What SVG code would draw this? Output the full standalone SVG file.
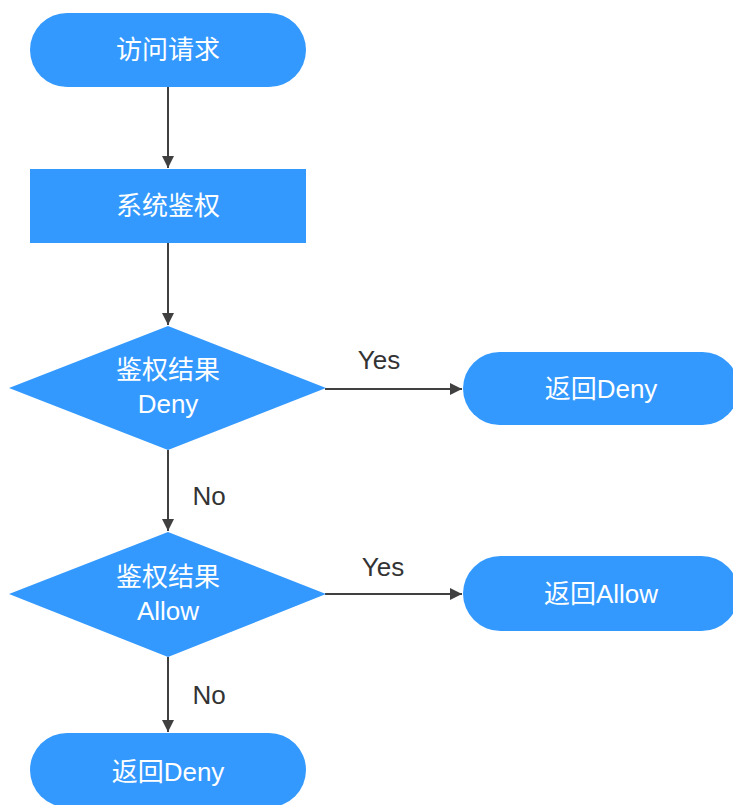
<svg xmlns="http://www.w3.org/2000/svg" width="733" height="805" viewBox="0 0 733 805">
<defs>
<style>
.n{fill:#3399ff;}
.t{fill:#ffffff;font-family:"Liberation Sans","Noto Sans CJK SC",sans-serif;font-size:26px;text-anchor:middle;}
.l{fill:#333333;font-family:"Liberation Sans",sans-serif;font-size:26px;text-anchor:middle;}
.c{stroke:#404040;stroke-width:2;fill:none;marker-end:url(#a);}
</style>
<marker id="a" viewBox="0 0 10 10" refX="10" refY="5" markerWidth="6" markerHeight="6" orient="auto" markerUnits="strokeWidth">
<path d="M0,0 L10,5 L0,10 Z" fill="#404040"/>
</marker>
</defs>
<rect width="733" height="805" fill="#ffffff"/>
<g id="connectors">
<line class="c" x1="168" y1="87" x2="168" y2="168"/>
<line class="c" x1="168" y1="243" x2="168" y2="325"/>
<line class="c" x1="325" y1="389" x2="462" y2="389"/>
<line class="c" x1="168" y1="450" x2="168" y2="531"/>
<line class="c" x1="325" y1="594" x2="462" y2="594"/>
<line class="c" x1="168" y1="657" x2="168" y2="732"/>
</g>
<g id="labels">
<text class="l" x="379" y="369">Yes</text>
<text class="l" x="383" y="576">Yes</text>
<text class="l" x="209" y="505">No</text>
<text class="l" x="209" y="704">No</text>
</g>
<g id="start">
<rect class="n" x="30" y="13" width="276" height="74" rx="37"/>
<text class="t" x="168" y="59">访问请求</text>
</g>
<g id="auth">
<rect class="n" x="30" y="169" width="276" height="74"/>
<text class="t" x="168" y="215">系统鉴权</text>
</g>
<g id="decision-deny">
<polygon class="n" points="168,326 326,388 168,450 9,388"/>
<text class="t" x="168" y="379">鉴权结果</text>
<text class="t" x="168" y="413">Deny</text>
</g>
<g id="return-deny-1">
<rect class="n" x="463" y="352" width="276" height="73" rx="36.5"/>
<text class="t" x="601" y="398">返回Deny</text>
</g>
<g id="decision-allow">
<polygon class="n" points="168,532 326,594 168,657 9,594"/>
<text class="t" x="168" y="586">鉴权结果</text>
<text class="t" x="168" y="620">Allow</text>
</g>
<g id="return-allow">
<rect class="n" x="463" y="556" width="276" height="75" rx="37.5"/>
<text class="t" x="601" y="603">返回Allow</text>
</g>
<g id="return-deny-2">
<rect class="n" x="30" y="733" width="276" height="74" rx="37"/>
<text class="t" x="168" y="781">返回Deny</text>
</g>
</svg>
